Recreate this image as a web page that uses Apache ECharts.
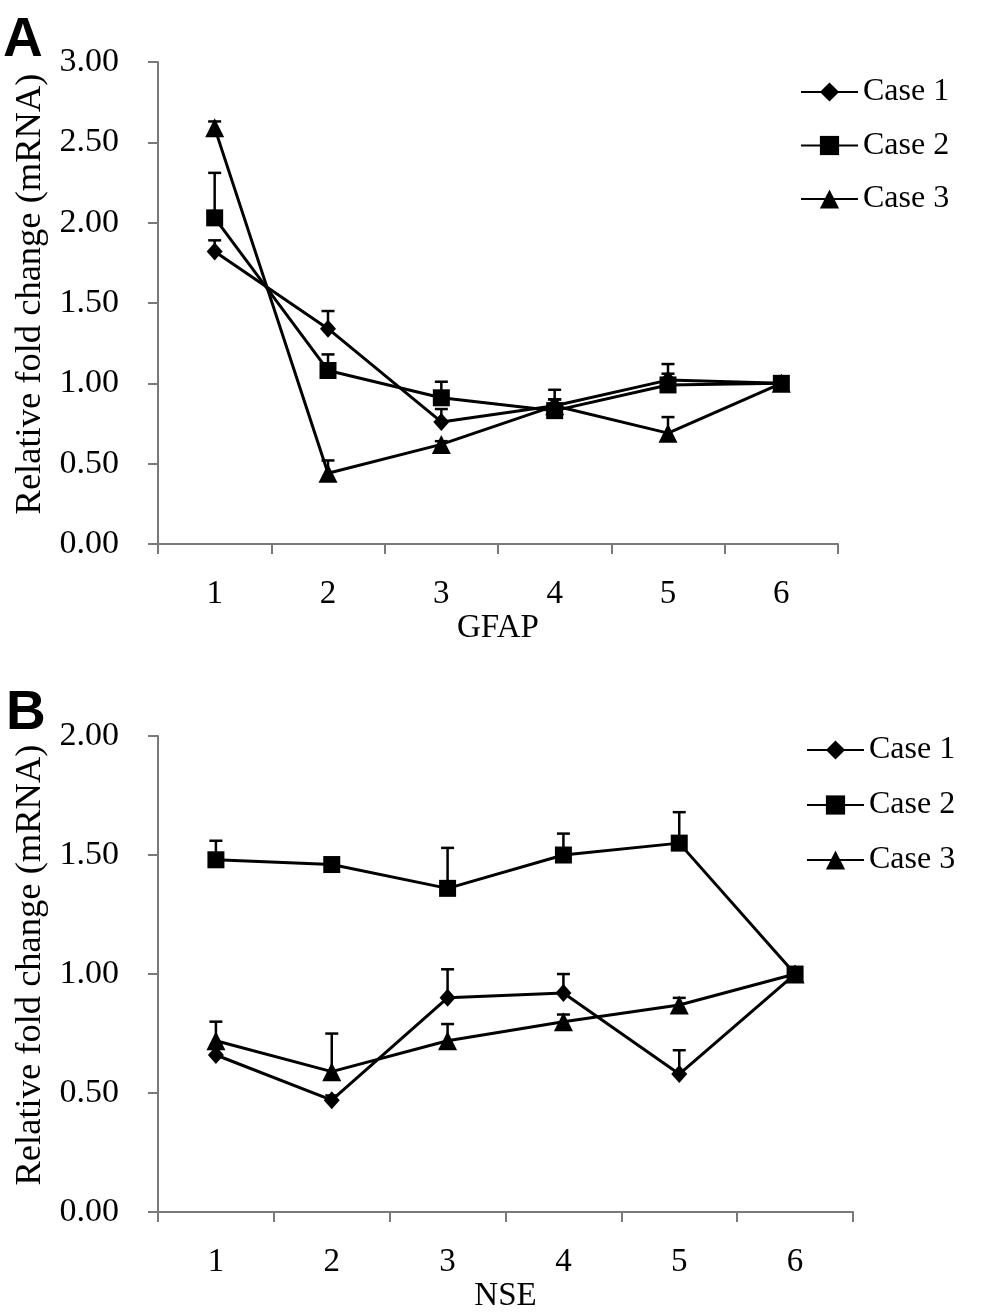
<!DOCTYPE html>
<html>
<head>
<meta charset="utf-8">
<script src="https://cdn.jsdelivr.net/npm/echarts@6/dist/echarts.min.js"></script>
<style>
html,body{margin:0;padding:0;background:#fff;}
#chart{width:982px;height:1314px;}
</style>
</head>
<body>
<div id="chart"></div>
<script>
const categories = ['1', '2', '3', '4', '5', '6'];
const seriesNames = ['Case 1', 'Case 2', 'Case 3'];
const yTicksA = [0, 0.5, 1, 1.5, 2, 2.5, 3];
const yTicksB = [0, 0.5, 1, 1.5, 2];

// Panel A: GFAP
const gfapCase1 = [1.82, 1.34, 0.76, 0.86, 1.02, 1.00];
const gfapCase1Err = [0.07, 0.11, 0.08, 0.04, 0.04, 0];
const gfapCase2 = [2.03, 1.08, 0.91, 0.83, 0.99, 1.00];
const gfapCase2Err = [0.28, 0.10, 0.10, 0.13, 0.13, 0];
const gfapCase3 = [2.59, 0.44, 0.62, 0.86, 0.69, 1.00];
const gfapCase3Err = [0.04, 0.08, 0.02, 0.04, 0.10, 0];

// Panel B: NSE
const nseCase1 = [0.66, 0.47, 0.90, 0.92, 0.58, 1.00];
const nseCase1Err = [0.04, 0.02, 0.12, 0.08, 0.10, 0];
const nseCase2 = [1.48, 1.46, 1.36, 1.50, 1.55, 1.00];
const nseCase2Err = [0.08, 0, 0.17, 0.09, 0.13, 0];
const nseCase3 = [0.72, 0.59, 0.72, 0.80, 0.87, 1.00];
const nseCase3Err = [0.08, 0.16, 0.07, 0.03, 0.03, 0];

const SERIF = 'Liberation Serif';
const AXIS_COLOR = '#7a7a7a';
const symbols = ['diamond', 'rect', 'triangle'];
const symbolSizes = [[16, 18], 17, 19];

function errSeries(idx, vals, errs) {
  return {
    type: 'custom',
    xAxisIndex: idx, yAxisIndex: idx,
    silent: true, z: 1,
    encode: { x: 0, y: 1 },
    data: vals.map((v, i) => [i, v, errs[i]]),
    renderItem: function (params, api) {
      const e = api.value(2);
      if (!e) return null;
      const x = api.value(0), v = api.value(1);
      const p0 = api.coord([x, v]);
      const p1 = api.coord([x, v + e]);
      return {
        type: 'group',
        children: [
          { type: 'line', shape: { x1: p0[0], y1: p0[1], x2: p1[0], y2: p1[1] }, style: { stroke: '#000', lineWidth: 2.5 } },
          { type: 'line', shape: { x1: p1[0] - 6.5, y1: p1[1], x2: p1[0] + 6.5, y2: p1[1] }, style: { stroke: '#000', lineWidth: 2.5 } }
        ]
      };
    }
  };
}

function lineSeries(idx, k, vals) {
  return {
    name: seriesNames[k],
    type: 'line',
    xAxisIndex: idx, yAxisIndex: idx,
    data: vals,
    symbol: symbols[k],
    symbolSize: symbolSizes[k],
    showAllSymbol: true,
    z: 3,
    lineStyle: { color: '#000', width: 3 },
    itemStyle: { color: '#000', borderWidth: 0 },
    emphasis: { disabled: true }
  };
}

function xAxisDef(idx, name, gap) {
  return {
    type: 'category', gridIndex: idx, data: categories, boundaryGap: true,
    name: name, nameLocation: 'middle', nameGap: gap,
    nameTextStyle: { fontFamily: SERIF, fontSize: 33, color: '#000' },
    axisLine: { show: true, lineStyle: { color: AXIS_COLOR, width: 2 } },
    axisTick: { show: true, interval: 0, alignWithLabel: false, length: 10, inside: false, lineStyle: { color: AXIS_COLOR, width: 2 } },
    axisLabel: { fontFamily: SERIF, fontSize: 33, color: '#000', margin: 34, interval: 0 },
    splitLine: { show: false }
  };
}

function yAxisDef(idx, ticks) {
  return {
    type: 'value', gridIndex: idx,
    min: ticks[0], max: ticks[ticks.length - 1], interval: ticks[1] - ticks[0],
    name: 'Relative fold change (mRNA)', nameLocation: 'middle', nameGap: 108,
    nameTextStyle: { fontFamily: SERIF, fontSize: 36.5, color: '#000', padding: [0, 0, 0, 18] },
    axisLine: { show: true, lineStyle: { color: AXIS_COLOR, width: 2 } },
    axisTick: { show: true, length: 10, inside: false, lineStyle: { color: AXIS_COLOR, width: 2 } },
    axisLabel: { fontFamily: SERIF, fontSize: 34, color: '#000', margin: 39, formatter: v => v.toFixed(2) },
    splitLine: { show: false }
  };
}

function legendDef(left, top, gap) {
  return {
    orient: 'vertical', left: left, top: top,
    data: seriesNames,
    itemWidth: 57, itemHeight: 24, itemGap: gap,
    selectedMode: false,
    textStyle: { fontFamily: SERIF, fontSize: 32, color: '#000', lineHeight: 34 },
    inactiveColor: '#000'
  };
}

const chart = echarts.init(document.getElementById('chart'), null, { renderer: 'canvas' });
chart.setOption({
  animation: false,
  backgroundColor: '#fff',
  grid: [
    { left: 158, top: 62, width: 680, height: 482, containLabel: false },
    { left: 158, top: 736, width: 695, height: 483, containLabel: false }
  ],
  xAxis: [xAxisDef(0, 'GFAP', 66), xAxisDef(1, 'NSE', 64)],
  yAxis: [yAxisDef(0, yTicksA), yAxisDef(1, yTicksB)],
  legend: [legendDef(795, 70, 19.5), legendDef(801, 728, 21)],
  graphic: [
    { type: 'text', left: 3, top: 13, style: { text: 'A', font: 'bold 55px "Liberation Sans"', fill: '#000' } },
    { type: 'text', left: 6, top: 686, style: { text: 'B', font: 'bold 55px "Liberation Sans"', fill: '#000' } }
  ],
  series: [
    errSeries(0, gfapCase1, gfapCase1Err),
    errSeries(0, gfapCase2, gfapCase2Err),
    errSeries(0, gfapCase3, gfapCase3Err),
    lineSeries(0, 0, gfapCase1),
    lineSeries(0, 1, gfapCase2),
    lineSeries(0, 2, gfapCase3),
    errSeries(1, nseCase1, nseCase1Err),
    errSeries(1, nseCase2, nseCase2Err),
    errSeries(1, nseCase3, nseCase3Err),
    lineSeries(1, 0, nseCase1),
    lineSeries(1, 1, nseCase2),
    lineSeries(1, 2, nseCase3)
  ]
});
</script>
</body>
</html>
